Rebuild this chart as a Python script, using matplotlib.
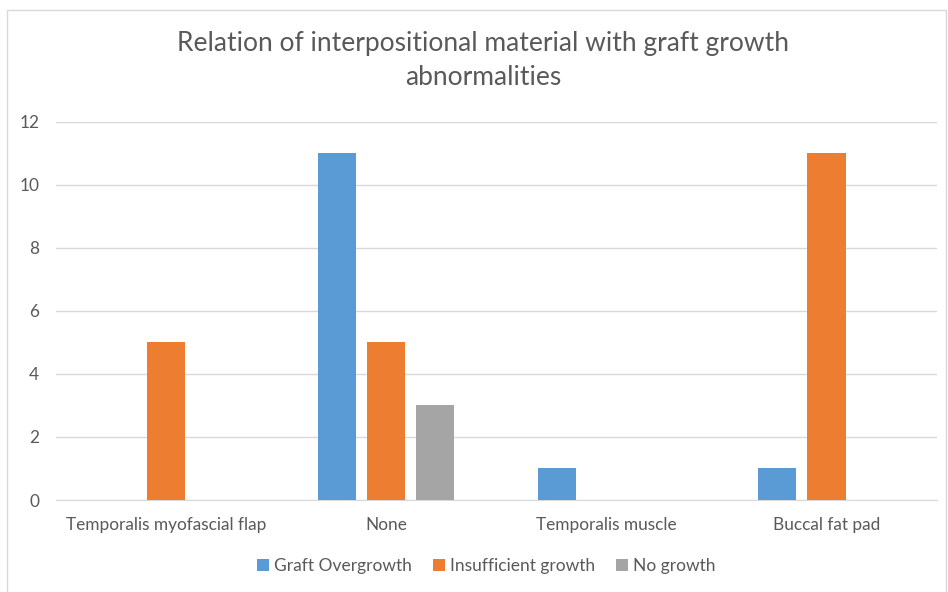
import numpy as np
import matplotlib
matplotlib.use("Agg")
import matplotlib.pyplot as plt
from matplotlib.patches import Rectangle

categories = ["Temporalis myofascial flap", "None", "Temporalis muscle", "Buccal fat pad"]
series_names = ["Graft Overgrowth", "Insufficient growth", "No growth"]
overgrowth = [0, 11, 1, 1]
insufficient = [5, 5, 0, 11]
no_growth = [0, 3, 0, 0]
colors = ["#5B9BD5", "#ED7D31", "#A5A5A5"]

plt.rcParams['font.family'] = ['Lato', 'DejaVu Sans']
txt = "#595959"

fig = plt.figure(figsize=(9.48, 5.92), dpi=100)
ax = fig.add_axes([0.059, 0.1554, 0.929, 0.6386])

x = np.arange(len(categories))
w = 0.173
step = 0.223
for i, (vals, name) in enumerate(zip([overgrowth, insufficient, no_growth], series_names)):
    ax.bar(x + (i - 1) * step, vals, width=w, color=colors[i], label=name, zorder=3)

ax.set_xlim(-0.5, 3.5)
ax.set_ylim(0, 12)
ax.set_yticks(range(0, 13, 2))
ax.set_xticks(x)
ax.set_xticklabels(categories)
ax.grid(axis='y', color="#D9D9D9", linewidth=1, zorder=0)
for s in ["top", "right", "left"]:
    ax.spines[s].set_visible(False)
ax.spines["bottom"].set_color("#D9D9D9")
ax.tick_params(axis='both', length=0, colors=txt, labelsize=12.4)
ax.tick_params(axis='y', pad=12)
ax.tick_params(axis='x', pad=12)

fig.text(0.51, 0.897, "Relation of interpositional material with graft growth\nabnormalities",
         ha='center', va='center', fontsize=19, color=txt, linespacing=1.45)

leg = fig.legend(loc='center', bbox_to_anchor=(0.513, 0.044), ncol=3, frameon=False,
                 fontsize=12.5, handlelength=0.7, handleheight=0.7, handletextpad=0.3,
                 columnspacing=1.2)
for t in leg.get_texts():
    t.set_color(txt)

fig.patches.append(Rectangle((7 / 948, -0.01), 0.99, 1 - 10 / 592 + 0.01, transform=fig.transFigure,
                             fill=False, edgecolor="#D9D9D9", linewidth=1))

fig.savefig("out.png", dpi=100)
